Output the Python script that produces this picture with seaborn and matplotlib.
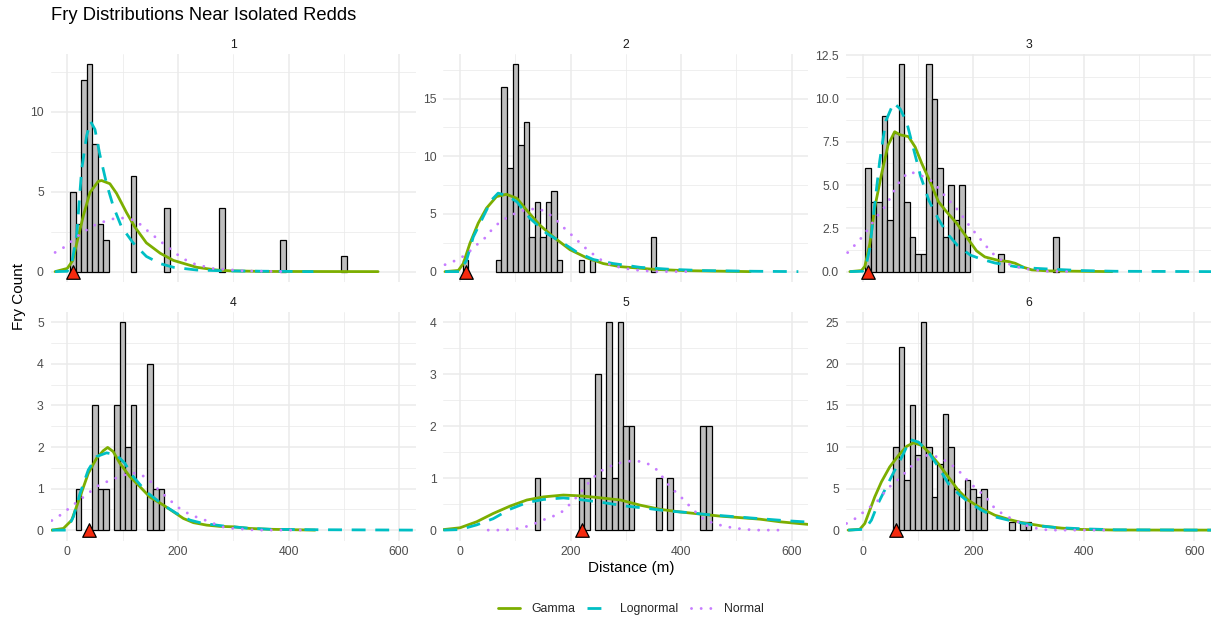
import numpy as np
import pandas as pd
import matplotlib
matplotlib.use("Agg")
import matplotlib.pyplot as plt
from matplotlib.lines import Line2D
from matplotlib.ticker import FixedLocator, FixedFormatter, NullFormatter
import seaborn as sns

# ---------------- observed fry counts (10 m distance bins, bin mid-points) ----------------
redd1_bin_mid = [10, 20, 30, 40, 50, 60, 70, 120, 180, 280, 390, 500]
redd1_fry = [5, 3, 12, 13, 8, 3, 2, 6, 4, 4, 2, 1]
redd2_bin_mid = [10, 70, 80, 90, 100, 110, 120, 130, 140, 150, 160, 170, 180, 220, 240, 350]
redd2_fry = [1, 1, 16, 9, 18, 11, 13, 3, 6, 3, 6, 7, 1, 1, 1, 3]
redd3_bin_mid = [10, 20, 30, 40, 50, 60, 70, 80, 90, 100, 110, 120, 130, 140, 150, 160, 170, 180, 190, 250, 350]
redd3_fry = [6, 4, 4, 9, 3, 8, 12, 4, 2, 1, 1, 12, 10, 6, 2, 5, 3, 5, 2, 1, 2]
redd4_bin_mid = [20, 50, 60, 70, 90, 100, 110, 120, 150, 160, 170]
redd4_fry = [1, 3, 1, 1, 3, 5, 2, 3, 4, 1, 1]
redd5_bin_mid = [140, 220, 230, 250, 260, 270, 280, 290, 300, 310, 360, 380, 440, 450]
redd5_fry = [1, 1, 1, 3, 1, 4, 1, 4, 2, 2, 1, 1, 2, 2]
redd6_bin_mid = [60, 70, 80, 90, 100, 110, 120, 130, 140, 150, 160, 170, 190, 200, 210, 220, 270, 290, 300]
redd6_fry = [10, 22, 6, 15, 9, 25, 10, 4, 8, 14, 10, 5, 6, 5, 4, 5, 1, 1, 1]

# redd location (m) for each panel
redd_position = [10, 10, 10, 40, 220, 60]

# ---------------- fitted curves (distance m, expected fry count) ----------------
redd1_gamma_x = [-22, 0, 10, 20, 29, 41, 56, 62, 77, 89, 107, 122, 143, 168, 192, 234, 270, 294, 354, 562]
redd1_gamma_y = [0, 0.2, 0.7, 2.2, 3.5, 4.95, 5.65, 5.7, 5.5, 4.9, 3.7, 2.8, 1.8, 1.15, 0.7, 0.27, 0.1, 0.05, 0.01, 0]
redd1_logn_x = [-22, 0, 8, 17, 26, 35, 42, 50, 59, 71, 83, 98, 119, 143, 168, 192, 234, 294, 445]
redd1_logn_y = [0, 0.02, 0.5, 2.3, 6.4, 8.5, 9.4, 8.9, 7.3, 5.5, 4.1, 2.8, 1.8, 0.95, 0.5, 0.27, 0.1, 0.04, 0]
redd1_norm_x = [-22, -2, 14, 30, 49, 68, 88, 103, 124, 140, 156, 172, 189, 207, 228, 261, 318, 390]
redd1_norm_y = [1.2, 1.6, 2.1, 2.5, 2.9, 3.15, 3.35, 3.35, 3.2, 2.7, 2.25, 1.8, 1.35, 0.85, 0.5, 0.2, 0.05, 0]

redd2_gamma_x = [-27, -3, 6, 18, 33, 48, 66, 84, 103, 121, 145, 169, 199, 229, 259, 290, 350, 410, 525]
redd2_gamma_y = [0, 0.1, 0.7, 2.45, 4.2, 5.5, 6.5, 6.7, 6.35, 5.3, 4.0, 3.0, 1.9, 1.2, 0.7, 0.43, 0.2, 0.08, 0]
redd2_logn_x = [-27, 0, 12, 24, 42, 57, 69, 84, 103, 127, 157, 187, 211, 241, 277, 326, 380, 440, 531, 612]
redd2_logn_y = [0, 0, 1.0, 3.0, 4.75, 6.2, 6.8, 6.6, 6.05, 4.6, 3.3, 2.45, 1.7, 1.05, 0.7, 0.37, 0.2, 0.09, 0.03, 0]
redd2_norm_x = [-27, -6, 12, 27, 43, 57, 72, 89, 107, 124, 143, 161, 178, 192, 206, 223, 237, 253, 271, 290, 314, 353, 419]
redd2_norm_y = [0.6, 1.0, 1.5, 2.2, 2.8, 3.6, 4.3, 4.8, 5.2, 5.4, 5.45, 5.0, 4.3, 3.6, 3.0, 2.2, 1.65, 1.07, 0.63, 0.35, 0.15, 0, 0]

redd3_gamma_x = [-23, -2, 4, 13, 22, 34, 46, 58, 68, 83, 95, 107, 122, 137, 152, 170, 188, 206, 221, 245, 264, 276, 291, 306, 336, 451]
redd3_gamma_y = [0, 0.06, 0.3, 1.6, 3.7, 5.6, 7.3, 8.08, 7.9, 7.8, 7.2, 6.25, 5.2, 4.05, 3.45, 2.8, 2.0, 1.2, 0.85, 0.65, 0.58, 0.48, 0.25, 0.1, 0.04, 0]
redd3_logn_x = [-23, 0, 6, 13, 22, 31, 42, 56, 68, 80, 92, 105, 120, 136, 153, 172, 195, 215, 239, 276, 312, 348, 396, 457, 631]
redd3_logn_y = [0, 0.02, 0.3, 1.35, 3.9, 6.4, 8.7, 9.75, 9.4, 8.6, 7.1, 5.5, 4.1, 3.1, 2.2, 1.5, 0.95, 0.72, 0.5, 0.29, 0.19, 0.13, 0.06, 0.02, 0]
redd3_norm_x = [-27, -12, 2, 13, 25, 39, 50, 60, 71, 86, 106, 124, 138, 152, 166, 179, 191, 204, 217, 232, 245, 266, 288, 309, 330, 378]
redd3_norm_y = [1.1, 1.6, 2.1, 2.6, 3.15, 3.7, 4.25, 4.85, 5.4, 5.77, 5.55, 5.25, 4.8, 4.25, 3.8, 3.27, 2.74, 2.22, 1.72, 1.15, 0.77, 0.42, 0.19, 0.1, 0.02, 0]

redd4_gamma_x = [-28, -7, 8, 23, 38, 53, 65, 73, 83, 95, 113, 131, 149, 174, 192, 210, 228, 252, 276, 300, 330, 366, 448]
redd4_gamma_y = [0, 0.04, 0.24, 0.8, 1.37, 1.73, 1.91, 1.99, 1.89, 1.61, 1.29, 1.05, 0.8, 0.6, 0.44, 0.28, 0.18, 0.12, 0.09, 0.08, 0.04, 0.02, 0]
redd4_logn_x = [-28, -1, 11, 23, 38, 53, 71, 89, 104, 119, 143, 174, 198, 222, 246, 282, 324, 366, 445, 629]
redd4_logn_y = [0, 0, 0.32, 0.88, 1.45, 1.77, 1.86, 1.81, 1.61, 1.29, 0.92, 0.6, 0.4, 0.24, 0.16, 0.1, 0.05, 0.02, 0.01, 0]
redd4_norm_x = [-28, -8, 8, 24, 41, 58, 76, 95, 113, 127, 145, 159, 174, 189, 205, 224, 243, 261, 279, 300, 321, 342, 427]
redd4_norm_y = [0.23, 0.4, 0.58, 0.74, 0.92, 1.09, 1.19, 1.29, 1.37, 1.37, 1.25, 1.05, 0.86, 0.68, 0.5, 0.36, 0.27, 0.18, 0.08, 0.04, 0.02, 0, 0]

redd5_gamma_x = [-30, 0, 30, 60, 90, 121, 151, 187, 217, 247, 290, 326, 362, 398, 434, 470, 507, 543, 579, 630]
redd5_gamma_y = [0.01, 0.045, 0.16, 0.32, 0.46, 0.58, 0.64, 0.675, 0.66, 0.63, 0.58, 0.48, 0.4, 0.35, 0.31, 0.27, 0.24, 0.21, 0.16, 0.11]
redd5_logn_x = [-30, 0, 30, 60, 90, 121, 151, 187, 223, 259, 302, 338, 374, 410, 446, 483, 519, 555, 591, 630]
redd5_logn_y = [0, 0.01, 0.1, 0.22, 0.4, 0.53, 0.59, 0.62, 0.58, 0.53, 0.46, 0.42, 0.37, 0.34, 0.3, 0.27, 0.24, 0.21, 0.18, 0.155]
redd5_norm_x = [51, 72, 93, 115, 136, 154, 174, 184, 199, 214, 227, 240, 255, 274, 294, 317, 338, 355, 368, 381, 396, 411, 426, 443, 469, 490, 511, 533, 582]
redd5_norm_y = [0, 0, 0.01, 0.05, 0.13, 0.21, 0.29, 0.35, 0.5, 0.67, 0.84, 1.0, 1.14, 1.24, 1.31, 1.34, 1.29, 1.17, 1.0, 0.82, 0.68, 0.51, 0.35, 0.19, 0.1, 0.05, 0.02, 0, 0]

redd6_gamma_x = [-26, -5, 4, 13, 22, 34, 49, 65, 80, 92, 107, 122, 137, 155, 173, 191, 215, 239, 264, 288, 324, 360, 396, 457, 630]
redd6_gamma_y = [0, 0.1, 0.8, 2.4, 4.0, 5.8, 7.6, 9.0, 10.1, 10.5, 10.2, 9.2, 8.0, 6.4, 4.8, 3.6, 2.6, 1.8, 1.3, 0.9, 0.5, 0.24, 0.08, 0.01, 0]
redd6_logn_x = [-26, 4, 16, 28, 40, 55, 71, 86, 101, 119, 137, 155, 173, 191, 215, 239, 276, 312, 348, 396, 457, 630]
redd6_logn_y = [0, 0.1, 1.2, 3.2, 4.8, 6.8, 8.8, 10.9, 10.6, 9.4, 7.6, 5.6, 4.4, 3.4, 2.4, 1.6, 1.0, 0.56, 0.32, 0.16, 0.04, 0]
redd6_norm_x = [-29, -13, 8, 27, 45, 66, 83, 98, 113, 131, 146, 162, 179, 192, 207, 223, 235, 252, 274, 294, 315, 336, 441]
redd6_norm_y = [0.8, 1.4, 2.5, 3.5, 5.0, 6.2, 7.3, 8.4, 9.0, 8.9, 8.5, 7.8, 6.8, 5.8, 4.9, 4.0, 2.9, 2.0, 1.2, 0.6, 0.2, 0, 0]

# ---------------- axis text ----------------
panel_labels = ["1", "2", "3", "4", "5", "6"]
y_ticks = [[0, 5, 10], [0, 5, 10, 15], [0, 2.5, 5, 7.5, 10, 12.5],
           [0, 1, 2, 3, 4, 5], [0, 1, 2, 3, 4], [0, 5, 10, 15, 20, 25]]
y_tick_labels = [["0", "5", "10"], ["0", "5", "10", "15"],
                 ["0.0", "2.5", "5.0", "7.5", "10.0", "12.5"],
                 ["0", "1", "2", "3", "4", "5"], ["0", "1", "2", "3", "4"],
                 ["0", "5", "10", "15", "20", "25"]]
x_ticks = [0, 200, 400, 600]
x_tick_labels = ["0", "200", "400", "600"]
fit_names = ["Gamma", "Lognormal", "Normal"]
title_text = "Fry Distributions Near Isolated Redds"
x_title = "Distance (m)"
y_title = "Fry Count"

bin_mids = [redd1_bin_mid, redd2_bin_mid, redd3_bin_mid, redd4_bin_mid, redd5_bin_mid, redd6_bin_mid]
fry_counts = [redd1_fry, redd2_fry, redd3_fry, redd4_fry, redd5_fry, redd6_fry]
gamma_curves = [(redd1_gamma_x, redd1_gamma_y), (redd2_gamma_x, redd2_gamma_y), (redd3_gamma_x, redd3_gamma_y),
                (redd4_gamma_x, redd4_gamma_y), (redd5_gamma_x, redd5_gamma_y), (redd6_gamma_x, redd6_gamma_y)]
logn_curves = [(redd1_logn_x, redd1_logn_y), (redd2_logn_x, redd2_logn_y), (redd3_logn_x, redd3_logn_y),
               (redd4_logn_x, redd4_logn_y), (redd5_logn_x, redd5_logn_y), (redd6_logn_x, redd6_logn_y)]
norm_curves = [(redd1_norm_x, redd1_norm_y), (redd2_norm_x, redd2_norm_y), (redd3_norm_x, redd3_norm_y),
               (redd4_norm_x, redd4_norm_y), (redd5_norm_x, redd5_norm_y), (redd6_norm_x, redd6_norm_y)]

# ---------------- styling ----------------
sns.set_theme(style="white")
plt.rcParams["font.family"] = ["Liberation Sans", "DejaVu Sans"]

GREEN = "#7CAE00"
CYAN = "#00BFC4"
PURPLE = "#C77CFF"
GRID = "#EBEBEB"
TICK_TXT = "#4D4D4D"
LW = 2.0
gamma_style = dict(color=GREEN, linewidth=LW, linestyle="-")
logn_style = dict(color=CYAN, linewidth=LW, linestyle=(0, (5, 3.5)))
norm_style = dict(color=PURPLE, linewidth=2.1, linestyle=(0, (0.01, 3.3)), dash_capstyle="round")

W, H = 1211, 621
fig = plt.figure(figsize=(W / 100, H / 100), dpi=100)
fig.patch.set_facecolor("white")

col_px = [(50.7, 415.7), (443.4, 808.3), (846.0, 1211.0)]
row_px = [(53.5, 282.0), (312.0, 540.5)]

for i in range(6):
    r, c = divmod(i, 3)
    x0, x1 = col_px[c]
    y0, y1 = row_px[r]
    ax = fig.add_axes([x0 / W, 1 - y1 / H, (x1 - x0) / W, (y1 - y0) / H])
    ax.set_facecolor("white")
    ax.set_axisbelow(True)

    hist_df = pd.DataFrame({"distance": bin_mids[i], "fry": fry_counts[i]})
    sns.histplot(data=hist_df, x="distance", weights="fry", binwidth=10, binrange=(5, 605),
                 ax=ax, color="#BEBEBE", edgecolor="black", linewidth=0.9, alpha=1)
    for p in list(ax.patches):
        if p.get_height() == 0:
            p.remove()
        else:
            p.set_zorder(2)

    curve_sets = [(gamma_curves[i], gamma_style, 3.0),
                  (logn_curves[i], logn_style, 3.1),
                  (norm_curves[i], norm_style, 3.2)]
    for (cx, cy), style, z in curve_sets:
        curve_df = pd.DataFrame({"distance": cx, "fry": cy})
        sns.lineplot(data=curve_df, x="distance", y="fry", ax=ax, estimator=None,
                     zorder=z, **style)

    redd_df = pd.DataFrame({"distance": [redd_position[i]], "fry": [0]})
    sns.scatterplot(data=redd_df, x="distance", y="fry", ax=ax, marker="^", s=95,
                    color="#F52A0E", edgecolor="black", linewidth=0.9, zorder=5, clip_on=False)

    ymax = max(fry_counts[i])
    ax.set_xlim(-30, 630)
    ax.set_ylim(-0.05 * ymax, 1.05 * ymax)

    yt = y_ticks[i]
    step = yt[1] - yt[0]
    minors = [v + step / 2 for v in yt]
    ax.yaxis.set_major_locator(FixedLocator(yt))
    ax.yaxis.set_major_formatter(FixedFormatter(y_tick_labels[i]))
    ax.yaxis.set_minor_locator(FixedLocator(minors))
    ax.xaxis.set_major_locator(FixedLocator(x_ticks))
    ax.xaxis.set_minor_locator(FixedLocator([-100, 100, 300, 500]))
    if r == 1:
        ax.xaxis.set_major_formatter(FixedFormatter(x_tick_labels))
    else:
        ax.xaxis.set_major_formatter(NullFormatter())

    ax.grid(which="major", color=GRID, linewidth=1.1)
    ax.grid(which="minor", color=GRID, linewidth=0.55)
    ax.tick_params(which="both", length=0, labelsize=8.8, labelcolor=TICK_TXT)
    ax.tick_params(axis="y", pad=5)
    ax.tick_params(axis="x", pad=4)
    for s in ax.spines.values():
        s.set_visible(False)
    ax.set_xlabel("")
    ax.set_ylabel("")
    ax.set_title(panel_labels[i], fontsize=8.8, color="#1A1A1A", pad=4)

fig.text(50.7 / W, 1 - 15 / H, title_text, ha="left", va="center", fontsize=13.2, color="black")
fig.text(631 / W, 1 - 568 / H, x_title, ha="center", va="center", fontsize=11, color="black")
fig.text(19 / W, 1 - 297 / H, y_title, ha="center", va="center", rotation=90, fontsize=11, color="black")

handles = [Line2D([0], [0], **gamma_style), Line2D([0], [0], **logn_style), Line2D([0], [0], **norm_style)]
fig.legend(handles, fit_names, loc="center", bbox_to_anchor=(631 / W, 1 - 609 / H), ncol=3,
           frameon=False, fontsize=8.8, handlelength=1.8, handletextpad=0.9, columnspacing=1.0)

fig.savefig("out.png", dpi=100, facecolor="white")
